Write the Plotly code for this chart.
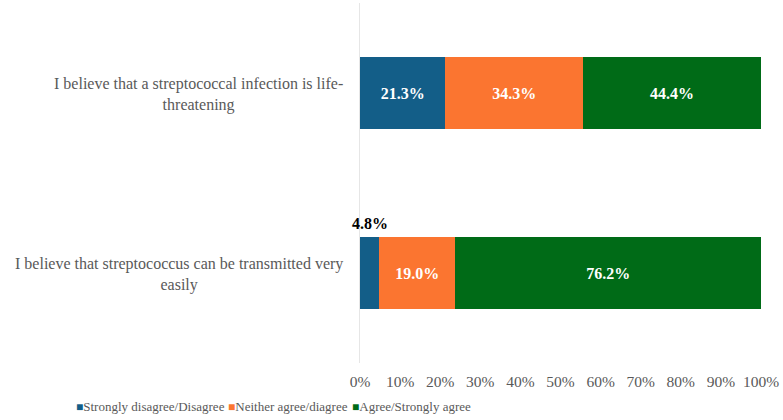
import plotly.graph_objects as go

categories = ["I believe that streptococcus can be transmitted very<br>easily",
              "I believe that a streptococcal infection is life-<br>threatening"]
series_names = ["Strongly disagree/Disagree", "Neither agree/diagree", "Agree/Strongly agree"]
disagree = [4.8, 21.3]
neutral = [19.0, 34.3]
agree = [76.2, 44.4]
colors = ["#135E88", "#FB7530", "#006B17"]
tick_vals = [0, 10, 20, 30, 40, 50, 60, 70, 80, 90, 100]
tick_text = [f"{v}%" for v in tick_vals]

FONT = "Liberation Serif, Times New Roman, serif"
PLOT_L, PLOT_W = 360, 401
fig = go.Figure()
for name, vals, col in zip(series_names, [disagree, neutral, agree], colors):
    texts = [f"{v:.1f}%" if v >= 8 else "" for v in vals]
    fig.add_trace(go.Bar(
        y=categories, x=vals, name=name, orientation="h",
        marker=dict(color=col, line=dict(width=0)),
        text=texts, textposition="inside", insidetextanchor="middle",
        textfont=dict(family=FONT, size=16, color="white", weight="bold"),
        hoverinfo="skip", showlegend=False,
    ))
    for c, v in zip(categories, vals):
        if v < 8:
            fig.add_annotation(x=v / 2, y=c, text=f"<b>{v:.1f}%</b>", showarrow=False,
                               yshift=50, font=dict(family=FONT, size=16, color="black"))

for c in categories:
    fig.add_annotation(x=(345 - PLOT_L) / PLOT_W, xref="paper", y=c, yref="y", yshift=-1,
                       text=c, showarrow=False, xanchor="right", align="center",
                       font=dict(family=FONT, size=16, color="#595959"))

# legend drawn as text items
legend_x_px = [74, 226, 350]
for n, c, px in zip(series_names, colors, legend_x_px):
    fig.add_annotation(x=(px - PLOT_L) / PLOT_W, xref="paper", y=-0.122, yref="paper",
                       xanchor="left", yanchor="middle", showarrow=False,
                       text=f"<span style='color:{c};font-size:12px'>■</span>{n}",
                       font=dict(family=FONT, size=13, color="#595959"))

fig.update_layout(
    width=783, height=420, barmode="stack", bargap=0.6,
    margin=dict(l=PLOT_L, r=22, t=3, b=57),
    plot_bgcolor="white", paper_bgcolor="white",
    font=dict(family=FONT, size=16, color="#595959"),
    xaxis=dict(range=[0, 100], tickvals=tick_vals, ticktext=tick_text, showgrid=False,
               zeroline=False, showline=False, ticks="", ticklen=0, ticklabelstandoff=7,
               tickfont=dict(size=15.5, color="#595959")),
    yaxis=dict(showticklabels=False, showline=True, linecolor="#E6E6E6", linewidth=1,
               ticks="", showgrid=False),
    showlegend=False,
)
fig.write_html("out.html")
